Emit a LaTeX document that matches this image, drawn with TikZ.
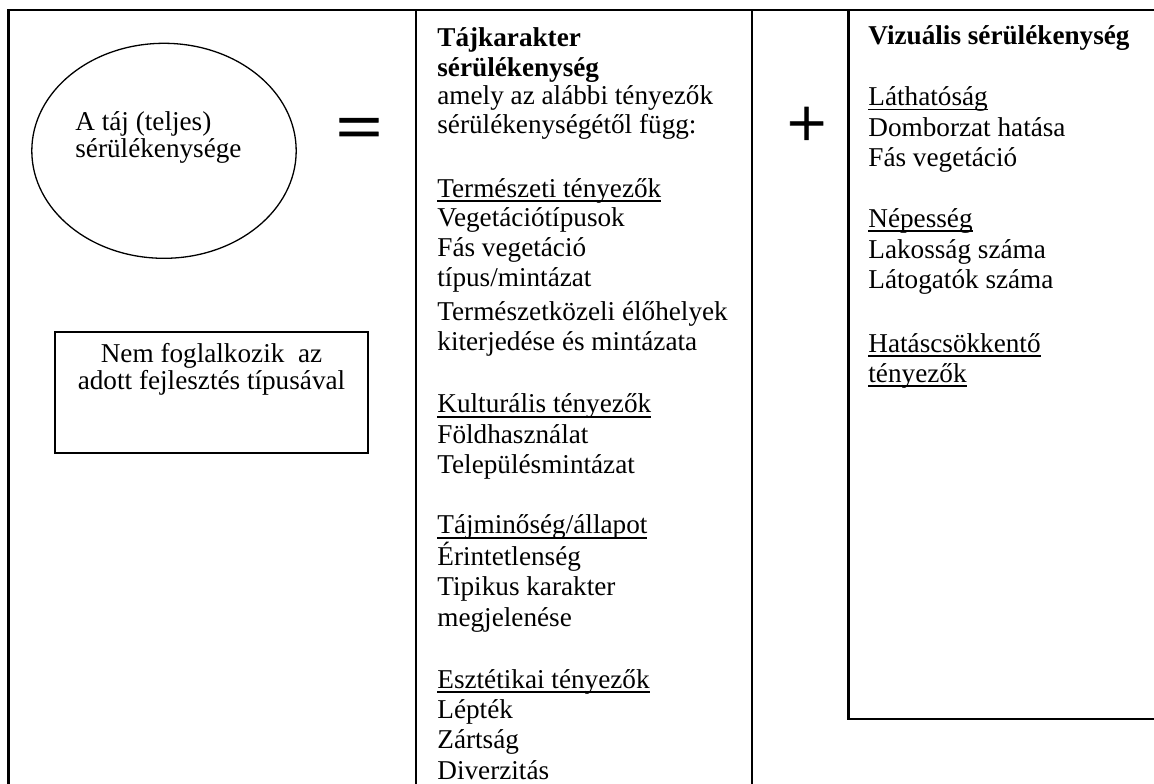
\documentclass[tikz,border=0pt]{standalone}
\usepackage{graphicx}
\usepackage{fontspec}
\setmainfont{Liberation Serif}
\newfontfamily\sansglyph[FakeBold=1.6]{Liberation Sans}
\newfontfamily\plusglyph[FakeBold=1.2]{Liberation Serif}
\newsavebox\ulbox
% underline at a fixed depth below the baseline, crossing descenders
\newcommand{\ulin}[1]{\sbox\ulbox{#1}\rlap{\rule[-0.19em]{\wd\ulbox}{0.07em}}\usebox\ulbox}
\begin{document}
\begin{tikzpicture}[x=0.5pt,y=-0.5pt,
  frame/.style={line width=1.2pt,line cap=rect},
  thinline/.style={line width=0.65pt},
  txt/.style={anchor=base west,inner sep=0pt,font=\fontsize{13.6pt}{15.6pt}\selectfont},
  ctxt/.style={anchor=base,inner sep=0pt,font=\fontsize{13.6pt}{15.6pt}\selectfont},
  ]
\useasboundingbox (0,0) rectangle (1154,783);
\clip (0,0) rectangle (1154,783);

% table frame
\coordinate (topright) at (1170,10);
\coordinate (topleft) at (8.5,10);
\coordinate (botleft) at (8.5,800);
\coordinate (c1top) at (416,10);
\coordinate (c1bot) at (416,800);
\coordinate (c2top) at (752,10);
\coordinate (c2bot) at (752,800);
\coordinate (vtop) at (848.5,10);
\coordinate (vcorner) at (848.5,718.8);
\coordinate (vright) at (1170,718.8);
\draw[frame] (topright) -- (topleft) -- (botleft);
\draw[frame] (c1top) -- (c1bot);
\draw[frame] (c2top) -- (c2bot);
\draw[frame] (vtop) -- (vcorner) -- (vright);

% left column: ellipse and note box
\draw[thinline] (164,150.8) ellipse [x radius=132.2, y radius=107.5];
\node[txt] (ell1) at (75,130) {A táj (teljes)};
\node[txt] (ell2) at (75,157) {sérülékenysége};

\draw[thinline] (55,332) rectangle (368,453);
\node[ctxt] (note1) at (211.5,362) {Nem foglalkozik\ \ az};
\node[ctxt] (note2) at (211.5,389) {adott fejlesztés típusával};

% operators
\node[anchor=base,inner sep=0pt] (eq) at (359,145)
  {\sansglyph\fontsize{40pt}{40pt}\selectfont\scalebox{0.98}[0.68]{=}};
\node[anchor=base,inner sep=0pt] (plus) at (806.5,146.7)
  {\plusglyph\fontsize{35pt}{35pt}\selectfont +};

% landscape character column
\node[txt] (m0) at (437,46.7) {\textbf{Tájkarakter}};
\node[txt] (m1) at (437,76) {\textbf{sérülékenység}};
\node[txt] (m2) at (437,104.5) {amely az alábbi tényezők};
\node[txt] (m3) at (437,133.5) {sérülékenységétől függ:};
\node[txt] (m5) at (437,197) {\ulin{Természeti tényezők}};
\node[txt] (m6) at (437,226) {Vegetációtípusok};
\node[txt] (m7) at (437,256) {Fás vegetáció};
\node[txt] (m8) at (437,286) {típus/mintázat};
\node[txt] (m9) at (437,320) {Természetközeli élőhelyek};
\node[txt] (m10) at (437,350) {kiterjedése és mintázata};
\node[txt] (m12) at (437,412.5) {\ulin{Kulturális tényezők}};
\node[txt] (m13) at (437,443) {Földhasználat};
\node[txt] (m14) at (437,473) {Településmintázat};
\node[txt] (m16) at (437,533.5) {\ulin{Tájminőség/állapot}};
\node[txt] (m17) at (437,565) {Érintetlenség};
\node[txt] (m18) at (437,595.5) {Tipikus karakter};
\node[txt] (m19) at (437,626.5) {megjelenése};
\node[txt] (m21) at (437,688) {\ulin{Esztétikai tényezők}};
\node[txt] (m22) at (437,718.5) {Lépték};
\node[txt] (m23) at (437,748.5) {Zártság};
\node[txt] (m24) at (437,779.3) {Diverzitás};

% visual vulnerability column
\node[txt] (v0) at (868,44.3) {\textbf{Vizuális sérülékenység}};
\node[txt] (v2) at (868,105.3) {\ulin{Láthatóság}};
\node[txt] (v3) at (868,136) {Domborzat hatása};
\node[txt] (v4) at (868,166) {Fás vegetáció};
\node[txt] (v6) at (868,227) {\ulin{Népesség}};
\node[txt] (v7) at (868,258) {Lakosság száma};
\node[txt] (v8) at (868,288.3) {Látogatók száma};
\node[txt] (v10) at (868,352) {\ulin{Hatáscsökkentő}};
\node[txt] (v11) at (868,382) {\ulin{tényezők}};
\end{tikzpicture}
\end{document}
